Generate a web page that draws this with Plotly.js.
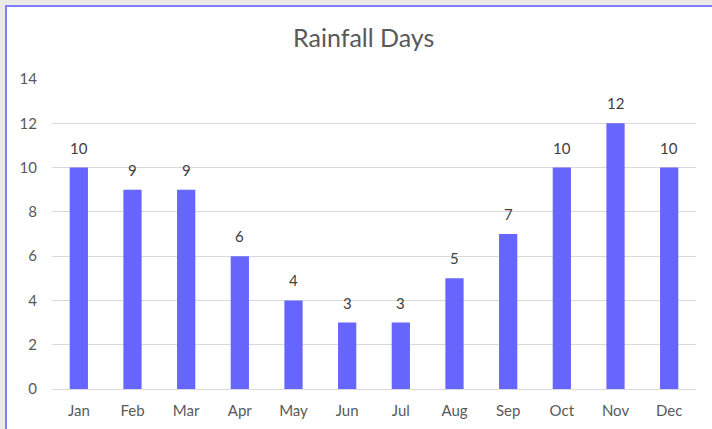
<!DOCTYPE html>
<html><head><meta charset="utf-8">
<script src="https://cdn.plot.ly/plotly-3.0.1.min.js"></script>
<style>
html,body{margin:0;padding:0;background:#EBEAE6;width:712px;height:429px;overflow:hidden;}
#box{position:absolute;left:5px;top:5px;width:720px;height:440px;border:2px solid #7F7FFF;background:#fff;}
#chart{position:absolute;left:7px;top:7px;width:705px;height:422px;}
</style></head>
<body>
<div id="box"></div>
<div id="chart"></div>
<script>
const months = ["Jan","Feb","Mar","Apr","May","Jun","Jul","Aug","Sep","Oct","Nov","Dec"];
const rainDays = [10,9,9,6,4,3,3,5,7,10,12,10];
const yTicks = [0,2,4,6,8,10,12,14];

const FONT = 'Lato, Carlito, sans-serif';
const labels = months.map((m,i)=>({
  x:m, y:rainDays[i], xref:'x', yref:'y', text:String(rainDays[i]),
  showarrow:false, yanchor:'bottom', yshift:9,
  font:{family:FONT, size:15, color:'#404040'}
}));

Plotly.newPlot('chart', [{
  type:'bar', x: months, y: rainDays,
  marker:{color:'#6666FF'},
  hoverinfo:'none'
}], {
  width:705, height:422,
  paper_bgcolor:'rgba(0,0,0,0)', plot_bgcolor:'rgba(0,0,0,0)',
  margin:{l:45,r:16,t:72,b:40},
  bargap:0.66,
  showlegend:false,
  annotations: labels,
  title:{text:'Rainfall Days', x:0.506, xref:'container', y:0.925, yref:'container', yanchor:'middle',
    font:{family:FONT, size:25, color:'#595959'}},
  xaxis:{showgrid:false, showline:false, zeroline:false, ticks:'', ticklabelstandoff:11,
    tickfont:{family:FONT, size:15, color:'#595959'}, fixedrange:true},
  yaxis:{range:[0,14], tickvals:yTicks, showgrid:true, gridcolor:'#D9D9D9', gridwidth:1,
    zeroline:true, zerolinecolor:'#D9D9D9', zerolinewidth:1, showline:false, ticks:'',
    ticklabelstandoff:14,
    tickfont:{family:FONT, size:15, color:'#595959'}, fixedrange:true}
}, {displayModeBar:false, staticPlot:true});
</script>
</body></html>
